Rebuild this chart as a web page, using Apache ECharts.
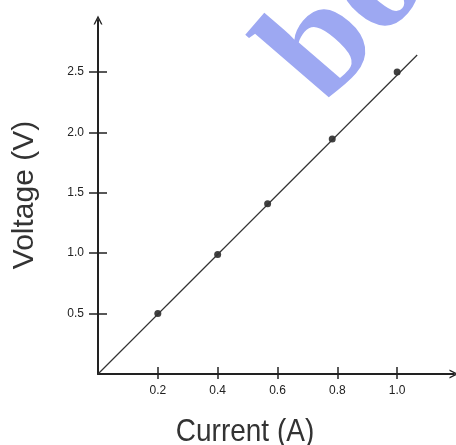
<!DOCTYPE html>
<html>
<head>
<meta charset="utf-8">
<script src="https://cdn.jsdelivr.net/npm/echarts@6/dist/echarts.min.js"></script>
<style>
html,body{margin:0;padding:0;background:#fff;}
#c{width:456px;height:445px;}
</style>
</head>
<body>
<div id="c"></div>
<script>
// Data
const currentA = [0.2, 0.4, 0.567, 0.783, 1.0];
const voltageV = [0.5, 0.99, 1.41, 1.945, 2.5];
const fitLineX = [0, 1.067];
const fitLineY = [0, 2.64];
const xTicks = [0.2, 0.4, 0.6, 0.8, 1.0];
const yTicks = [0.5, 1.0, 1.5, 2.0, 2.5];
const xTitle = 'Current (A)';
const yTitle = 'Voltage (V)';
const watermark = 'bo';

const chart = echarts.init(document.getElementById('c'), null, {renderer: 'canvas'});
const arrowPath = 'path://M0,10 L5,0 L10,10 L8.4,10 L5,3.2 L1.6,10 Z';
const axisColor = '#222';
const labelStyle = {color: '#222', fontSize: 12, fontFamily: 'Liberation Sans, Arial, sans-serif'};

const xBase = {type: 'value', min: 0, max: 1.19, interval: 0.2, splitLine: {show: false}};
const yBase = {type: 'value', min: 0, max: 2.93, interval: 0.5, splitLine: {show: false}};

chart.setOption({
  animation: false,
  backgroundColor: '#fff',
  grid: {left: 98, right: 2, top: 20, bottom: 71, containLabel: false},
  xAxis: [
    Object.assign({}, xBase, {
      position: 'bottom',
      axisLine: {show: true, onZero: false, symbol: ['none', arrowPath], symbolSize: [9, 9], lineStyle: {color: axisColor, width: 2}},
      axisTick: {show: true, length: 5, customValues: xTicks, lineStyle: {color: axisColor, width: 1.5}},
      axisLabel: Object.assign({show: true, margin: 11, customValues: xTicks, formatter: v => v.toFixed(1)}, labelStyle)
    }),
    Object.assign({}, xBase, {
      position: 'bottom',
      axisLine: {show: false, onZero: false},
      axisTick: {show: true, inside: true, length: 7, customValues: xTicks, lineStyle: {color: axisColor, width: 1.5}},
      axisLabel: {show: false}
    })
  ],
  yAxis: [
    Object.assign({}, yBase, {
      position: 'left',
      axisLine: {show: true, onZero: false, symbol: ['none', arrowPath], symbolSize: [9, 9], lineStyle: {color: axisColor, width: 2}},
      axisTick: {show: true, length: 9, customValues: yTicks, lineStyle: {color: axisColor, width: 1.5}},
      axisLabel: Object.assign({show: true, margin: 14, customValues: yTicks, formatter: v => v.toFixed(1)}, labelStyle)
    }),
    Object.assign({}, yBase, {
      position: 'left',
      axisLine: {show: false, onZero: false},
      axisTick: {show: true, inside: true, length: 9, customValues: yTicks, lineStyle: {color: axisColor, width: 1.5}},
      axisLabel: {show: false}
    })
  ],
  series: [
    {
      type: 'line',
      xAxisIndex: 0, yAxisIndex: 0,
      data: fitLineX.map((x, i) => [x, fitLineY[i]]),
      symbol: 'none',
      lineStyle: {color: '#333', width: 1.2},
      silent: true
    },
    {
      type: 'scatter',
      xAxisIndex: 0, yAxisIndex: 0,
      data: currentA.map((x, i) => [x, voltageV[i]]),
      symbol: 'circle',
      symbolSize: 7,
      itemStyle: {color: '#111'}
    }
  ],
  graphic: [
    {
      type: 'text',
      x: 354, y: 131,
      rotation: 0.86,
      style: {
        text: watermark,
        fill: '#9da8f2',
        font: 'bold 155px "Liberation Serif", "Times New Roman", serif',
        textAlign: 'left',
        textVerticalAlign: 'bottom'
      },
      z: 100
    },
    {
      type: 'text',
      x: 245, y: 432,
      scaleY: 1.12,
      style: {
        text: xTitle,
        fill: '#333',
        font: '28px "Liberation Sans", Arial, sans-serif',
        textAlign: 'center',
        textVerticalAlign: 'middle'
      }
    },
    {
      type: 'text',
      x: 25, y: 195,
      rotation: Math.PI / 2,
      style: {
        text: yTitle,
        fill: '#333',
        font: '30px "Liberation Sans", Arial, sans-serif',
        textAlign: 'center',
        textVerticalAlign: 'middle'
      }
    }
  ]
});
</script>
</body>
</html>
